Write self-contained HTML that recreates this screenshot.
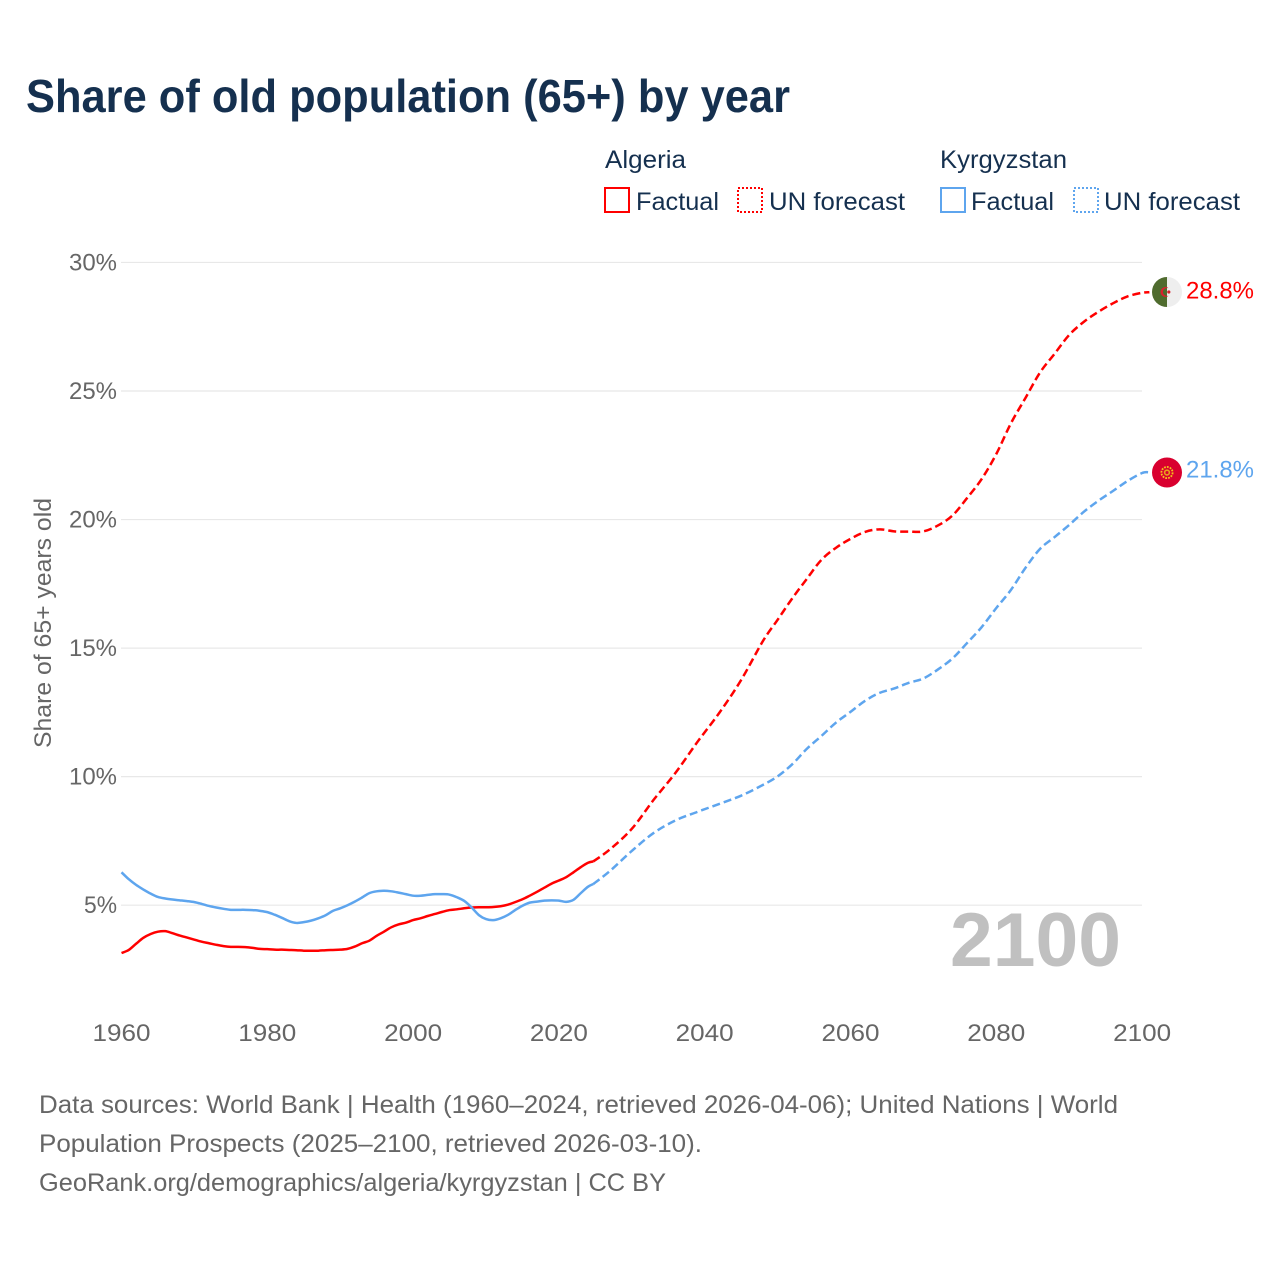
<!DOCTYPE html>
<html lang="en">
<head>
<meta charset="utf-8">
<title>Share of old population (65+) by year</title>
<style>
html,body{margin:0;padding:0;background:#fff;}
svg{display:block;}
text{font-family:"Liberation Sans",sans-serif;}
</style>
</head>
<body>
<svg id="chart" xmlns="http://www.w3.org/2000/svg" width="1280" height="1280" viewBox="0 0 1280 1280">
  <rect x="0" y="0" width="1280" height="1280" fill="#ffffff"/>
  <text x="26" y="112" font-size="46" font-weight="700" fill="#15304f" textLength="764" lengthAdjust="spacingAndGlyphs">Share of old population (65+) by year</text>

  <g font-size="25" fill="#15304f">
    <text x="605" y="168" textLength="81" lengthAdjust="spacingAndGlyphs">Algeria</text>
    <text x="940" y="168" textLength="127" lengthAdjust="spacingAndGlyphs">Kyrgyzstan</text>
    <rect x="605" y="188" width="24" height="24" fill="none" stroke="#ff0000" stroke-width="2"/>
    <text x="636" y="210" textLength="83" lengthAdjust="spacingAndGlyphs">Factual</text>
    <rect x="738" y="188" width="24" height="24" fill="none" stroke="#ff0000" stroke-width="2" stroke-dasharray="2 2"/>
    <text x="769" y="210" textLength="136" lengthAdjust="spacingAndGlyphs">UN forecast</text>
    <rect x="941" y="188" width="24" height="24" fill="none" stroke="#5ea5ee" stroke-width="2"/>
    <text x="971" y="210" textLength="83" lengthAdjust="spacingAndGlyphs">Factual</text>
    <rect x="1074" y="188" width="24" height="24" fill="none" stroke="#5ea5ee" stroke-width="2" stroke-dasharray="2 2"/>
    <text x="1104" y="210" textLength="136" lengthAdjust="spacingAndGlyphs">UN forecast</text>
  </g>

  <g id="grid"></g>
  <g id="yticks" font-size="24" fill="#666666"></g>
  <g id="xticks" font-size="24" fill="#666666"></g>
  <text transform="translate(51,748) rotate(-90)" x="0" y="0" font-size="24" fill="#666666" textLength="250" lengthAdjust="spacingAndGlyphs">Share of 65+ years old</text>
  <text x="950" y="966" font-size="76" font-weight="700" fill="#c0c0c0" textLength="171" lengthAdjust="spacingAndGlyphs">2100</text>
  <g id="series"></g>
  <g id="ends"></g>

  <g font-size="25" fill="#666666">
    <text x="39" y="1113" textLength="1079" lengthAdjust="spacingAndGlyphs">Data sources: World Bank | Health (1960–2024, retrieved 2026-04-06); United Nations | World</text>
    <text x="39" y="1152" textLength="663" lengthAdjust="spacingAndGlyphs">Population Prospects (2025–2100, retrieved 2026-03-10).</text>
    <text x="39" y="1191" textLength="627" lengthAdjust="spacingAndGlyphs">GeoRank.org/demographics/algeria/kyrgyzstan | CC BY</text>
  </g>
</svg>
<script>
const yTickValues = [5, 10, 15, 20, 25, 30];
const yTickLabels = ["5%", "10%", "15%", "20%", "25%", "30%"];
const xTickValues = [1960, 1980, 2000, 2020, 2040, 2060, 2080, 2100];
const xTickLabels = ["1960", "1980", "2000", "2020", "2040", "2060", "2080", "2100"];

const factualYears = [1960,1961,1962,1963,1964,1965,1966,1967,1968,1969,1970,1971,1972,1973,1974,1975,1976,1977,1978,1979,1980,1981,1982,1983,1984,1985,1986,1987,1988,1989,1990,1991,1992,1993,1994,1995,1996,1997,1998,1999,2000,2001,2002,2003,2004,2005,2006,2007,2008,2009,2010,2011,2012,2013,2014,2015,2016,2017,2018,2019,2020,2021,2022,2023,2024,2024.7];
const algeriaFactual = [3.14,3.26,3.50,3.73,3.88,3.97,3.99,3.91,3.82,3.74,3.66,3.58,3.52,3.46,3.41,3.38,3.38,3.37,3.34,3.30,3.29,3.27,3.27,3.26,3.25,3.23,3.23,3.23,3.25,3.26,3.27,3.30,3.39,3.52,3.62,3.81,3.97,4.14,4.25,4.32,4.42,4.49,4.58,4.66,4.74,4.81,4.84,4.88,4.91,4.92,4.92,4.93,4.96,5.02,5.12,5.23,5.37,5.52,5.68,5.84,5.96,6.09,6.28,6.48,6.65,6.70];
const kyrgyzstanFactual = [6.28,6.01,5.79,5.61,5.45,5.32,5.26,5.22,5.19,5.16,5.12,5.05,4.97,4.91,4.86,4.82,4.82,4.82,4.81,4.78,4.73,4.63,4.51,4.38,4.31,4.34,4.40,4.49,4.61,4.78,4.88,5.00,5.14,5.30,5.47,5.54,5.56,5.54,5.49,5.43,5.37,5.37,5.40,5.43,5.43,5.41,5.31,5.17,4.92,4.62,4.46,4.42,4.49,4.62,4.81,4.98,5.10,5.14,5.18,5.19,5.18,5.13,5.21,5.47,5.72,5.82];

const forecastYears = [2024.7,2027,2030,2033,2036,2039,2042,2045,2048,2050,2052,2054,2056,2058,2060,2062,2064,2066,2068,2070,2072,2074,2076,2078,2080,2082,2084,2086,2088,2090,2092,2094,2096,2098,2100,2101];
const algeriaForecast = [6.70,7.17,7.97,9.10,10.15,11.35,12.48,13.76,15.28,16.10,16.93,17.69,18.43,18.90,19.25,19.52,19.62,19.54,19.53,19.54,19.77,20.16,20.84,21.58,22.55,23.74,24.73,25.72,26.45,27.18,27.69,28.08,28.41,28.68,28.82,28.84];
const kyrgyzstanForecast = [5.82,6.33,7.11,7.81,8.30,8.63,8.94,9.26,9.68,10.01,10.48,11.08,11.58,12.10,12.52,12.95,13.26,13.43,13.65,13.82,14.17,14.60,15.20,15.82,16.56,17.26,18.12,18.86,19.32,19.79,20.30,20.73,21.11,21.50,21.81,21.84];

const endLabels = ["28.8%", "21.8%"];

const NS = "http://www.w3.org/2000/svg";
function xScale(year) { return 121.5 + (year - 1960) * 7.29; }
function yScale(v) { return 905.2 - (v - 5) * 25.71; }
function make(tag, attrs, parent) {
  const n = document.createElementNS(NS, tag);
  for (const k in attrs) n.setAttribute(k, attrs[k]);
  parent.appendChild(n);
  return n;
}
function smoothPath(years, values) {
  const p = years.map((yr, i) => [xScale(yr), yScale(values[i])]);
  let d = "M" + p[0][0].toFixed(2) + " " + p[0][1].toFixed(2);
  for (let i = 0; i < p.length - 1; i++) {
    const a = p[Math.max(i - 1, 0)], b = p[i], c = p[i + 1], e = p[Math.min(i + 2, p.length - 1)];
    const c1x = b[0] + (c[0] - a[0]) / 6, c1y = b[1] + (c[1] - a[1]) / 6;
    const c2x = c[0] - (e[0] - b[0]) / 6, c2y = c[1] - (e[1] - b[1]) / 6;
    d += "C" + c1x.toFixed(2) + " " + c1y.toFixed(2) + " " + c2x.toFixed(2) + " " + c2y.toFixed(2) + " " + c[0].toFixed(2) + " " + c[1].toFixed(2);
  }
  return d;
}

const grid = document.getElementById("grid");
const yticks = document.getElementById("yticks");
const xticks = document.getElementById("xticks");
const series = document.getElementById("series");
const ends = document.getElementById("ends");

yTickValues.forEach((v, i) => {
  const line = make("line", { x1: 121, x2: 1142, y1: yScale(v), y2: yScale(v), stroke: "#e8e8e8", "stroke-width": 1.2 }, grid);
  
  
  const label = make("text", { x: 117, y: yScale(v) + 8, "text-anchor": "end", textLength: yTickLabels[i].length === 2 ? 33 : 48, lengthAdjust: "spacingAndGlyphs" }, yticks);
  
  
  label.textContent = yTickLabels[i];
});

xTickValues.forEach((yr, i) => {
  const label = make("text", { x: xScale(yr), y: 1041, "text-anchor": "middle", textLength: 58, lengthAdjust: "spacingAndGlyphs" }, xticks);
  
  
  label.textContent = xTickLabels[i];
});

const lineStyle = { fill: "none", "stroke-width": 2.5, "stroke-linejoin": "round" };

const algF = make("path", Object.assign({ d: smoothPath(factualYears, algeriaFactual), stroke: "#ff0000" }, lineStyle), series);



const kgzF = make("path", Object.assign({ d: smoothPath(factualYears, kyrgyzstanFactual), stroke: "#5ea5ee" }, lineStyle), series);



const algP = make("path", Object.assign({ d: smoothPath(forecastYears, algeriaForecast), stroke: "#ff0000", "stroke-dasharray": "8 4" }, lineStyle), series);



const kgzP = make("path", Object.assign({ d: smoothPath(forecastYears, kyrgyzstanForecast), stroke: "#5ea5ee", "stroke-dasharray": "8 4" }, lineStyle), series);



/* Algeria end marker */
const algY = yScale(algeriaForecast[algeriaForecast.length - 1]);
const algFlag = make("g", { transform: "translate(1167," + (algY - 0.3) + ")" }, ends);


make("circle", { r: 15, fill: "#eeeeee" }, algFlag);
make("path", { d: "M0 -15A15 15 0 0 0 0 15Z", fill: "#4f6b2e" }, algFlag);
make("circle", { cx: -1.5, cy: 0, r: 5, fill: "#d8212f" }, algFlag);
make("circle", { cx: -0.2, cy: 0, r: 3.9, fill: "#4f6b2e" }, algFlag);
make("rect", { x: 0, y: -3.9, width: 4, height: 7.8, fill: "#eeeeee" }, algFlag);
make("circle", { cx: 1.8, cy: 0, r: 1.6, fill: "#d8212f" }, algFlag);

const algLabel = make("text", { x: 1186, y: algY + 6, "font-size": 24, fill: "#ff0000", textLength: 68, lengthAdjust: "spacingAndGlyphs" }, ends);


algLabel.textContent = endLabels[0];

/* Kyrgyzstan end marker */
const kgzY = yScale(kyrgyzstanForecast[kyrgyzstanForecast.length - 1]);
const kgzFlag = make("g", { transform: "translate(1167," + (kgzY + 0.3) + ")" }, ends);


make("circle", { r: 15, fill: "#d9002f" }, kgzFlag);
make("circle", { r: 5.6, fill: "none", stroke: "#f5c21b", "stroke-width": 1.8, "stroke-dasharray": "1.8 1.1" }, kgzFlag);
make("circle", { r: 3.2, fill: "#e8a01c" }, kgzFlag);
make("circle", { r: 1.6, fill: "#d9002f" }, kgzFlag);

const kgzLabel = make("text", { x: 1186, y: kgzY + 5.5, "font-size": 24, fill: "#5ea5ee", textLength: 68, lengthAdjust: "spacingAndGlyphs" }, ends);


kgzLabel.textContent = endLabels[1];
</script>
</body>
</html>
